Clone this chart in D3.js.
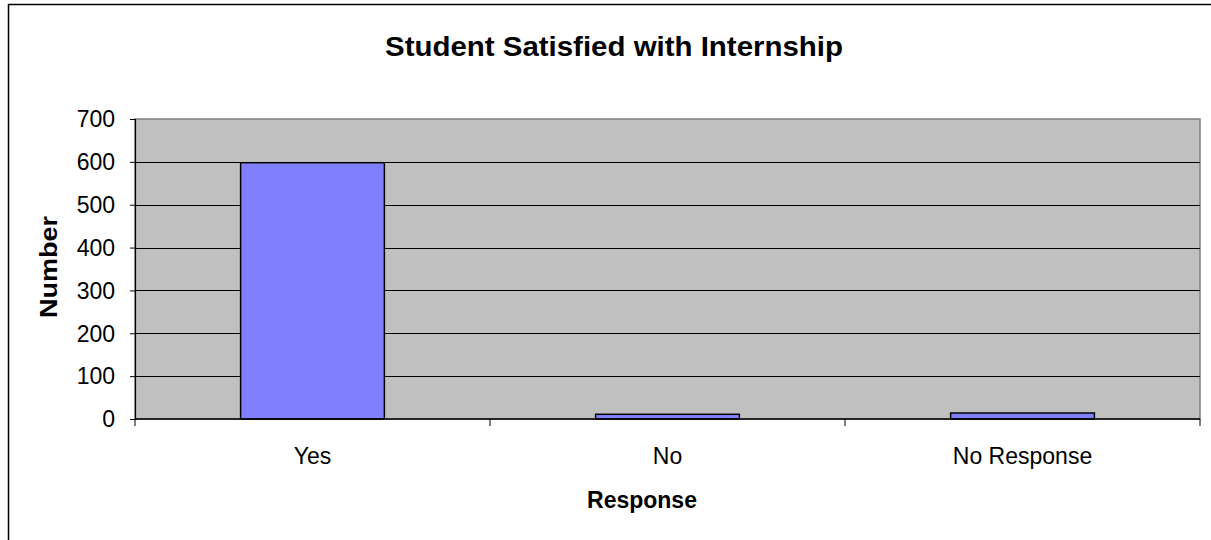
<!DOCTYPE html>
<html>
<head>
<meta charset="utf-8">
<script src="https://cdn.jsdelivr.net/npm/d3@7"></script>
<style>
  html, body { margin: 0; padding: 0; background: #fff; overflow: hidden; }
  svg { display: block; overflow: hidden; }
  text { font-family: "Liberation Sans", Arial, sans-serif; fill: #000; }
</style>
</head>
<body>
<svg id="chart" width="1211" height="540"></svg>
<script>
// Survey responses
const categories = ["Yes", "No", "No Response"];
const counts = [598, 11, 14];
const yTicks = [0, 100, 200, 300, 400, 500, 600, 700];
const titleText = "Student Satisfied with Internship";
const xTitle = "Response";
const yTitle = "Number";

const plot = { left: 135, right: 1200, top: 119, bottom: 419 };

const svg = d3.select("#chart");

// outer chart frame (runs off the right and bottom edges)
svg.append("rect")
  .attr("x", 8.5).attr("y", 4.5)
  .attr("width", 1300).attr("height", 600)
  .attr("fill", "#fff")
  .attr("stroke", "#000").attr("stroke-width", 1.5);

const x = d3.scaleBand()
  .domain(categories)
  .range([plot.left, plot.right])
  .paddingInner(0)
  .paddingOuter(0);

const y = d3.scaleLinear()
  .domain([0, 700])
  .range([plot.bottom, plot.top]);

// plot area
svg.append("rect")
  .attr("x", plot.left).attr("y", plot.top)
  .attr("width", plot.right - plot.left)
  .attr("height", plot.bottom - plot.top)
  .attr("fill", "#c0c0c0")
  .attr("stroke", "#808080").attr("stroke-width", 1.5);

// horizontal gridlines
svg.append("g")
  .selectAll("line")
  .data(yTicks.filter(t => t > 0 && t < 700))
  .join("line")
  .attr("x1", plot.left).attr("x2", plot.right)
  .attr("y1", d => Math.round(y(d)) + 0.5)
  .attr("y2", d => Math.round(y(d)) + 0.5)
  .attr("stroke", "#000").attr("stroke-width", 1);

// bars
const barW = x.bandwidth() * 0.405;
svg.append("g")
  .selectAll("rect")
  .data(categories.map((c, i) => ({ c, v: counts[i] })))
  .join("rect")
  .attr("x", d => x(d.c) + (x.bandwidth() - barW) / 2)
  .attr("y", d => y(d.v))
  .attr("width", barW)
  .attr("height", d => y(0) - y(d.v))
  .attr("fill", "#8080ff")
  .attr("stroke", "#000").attr("stroke-width", 1.5);

// y axis
const yAxis = d3.axisLeft(y)
  .tickValues(yTicks)
  .tickSize(5)
  .tickPadding(15)
  .tickFormat(d3.format("d"));
const gy = svg.append("g")
  .attr("transform", `translate(${plot.left},0)`)
  .call(yAxis);
gy.select(".domain").attr("stroke", "#000").attr("stroke-width", 1.2);
gy.selectAll(".tick line").attr("stroke", "#000");
gy.selectAll(".tick text")
  .attr("font-size", 23)
  .attr("font-family", "Liberation Sans, Arial, sans-serif")
  .attr("dy", "0.34em")
  .attr("fill", "#000");

// x axis with ticks at the band boundaries
const boundaries = categories.map(c => x(c)).concat([plot.right]);
const xAxisG = svg.append("g");
xAxisG.append("line")
  .attr("x1", plot.left).attr("x2", plot.right)
  .attr("y1", plot.bottom).attr("y2", plot.bottom)
  .attr("stroke", "#000").attr("stroke-width", 1.5);
xAxisG.selectAll("line.tk")
  .data(boundaries)
  .join("line")
  .attr("class", "tk")
  .attr("x1", d => d).attr("x2", d => d)
  .attr("y1", plot.bottom).attr("y2", plot.bottom + 7)
  .attr("stroke", "#000");
xAxisG.selectAll("text")
  .data(categories)
  .join("text")
  .attr("x", d => x(d) + x.bandwidth() / 2)
  .attr("y", 464)
  .attr("text-anchor", "middle")
  .attr("font-size", 23)
  .text(d => d);

// titles
svg.append("text")
  .attr("x", 614).attr("y", 56)
  .attr("text-anchor", "middle")
  .attr("font-size", 28).attr("font-weight", "bold")
  .attr("textLength", 458).attr("lengthAdjust", "spacingAndGlyphs")
  .text(titleText);

svg.append("text")
  .attr("x", 642).attr("y", 508)
  .attr("text-anchor", "middle")
  .attr("font-size", 23).attr("font-weight", "bold")
  .text(xTitle);

svg.append("text")
  .attr("transform", `translate(57,267) rotate(-90)`)
  .attr("text-anchor", "middle")
  .attr("font-size", 24).attr("font-weight", "bold")
  .attr("textLength", 102).attr("lengthAdjust", "spacingAndGlyphs")
  .text(yTitle);
</script>
</body>
</html>
